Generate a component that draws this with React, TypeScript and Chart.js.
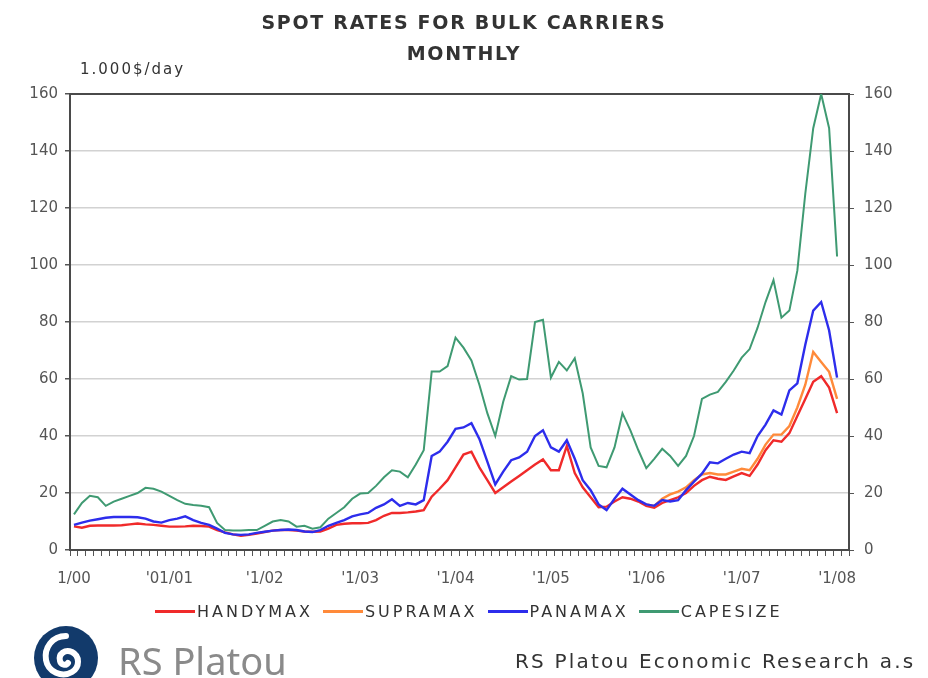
import React, { useEffect, useRef } from "react";
import { Chart, registerables } from "chart.js";

Chart.register(...registerables);

// Monthly categories Jan 2000 .. Feb 2008 (last slot left empty)
const categories: string[] = [];
for (let y = 2000; y <= 2008; y++) {
  for (let m = 1; m <= 12; m++) {
    if (categories.length < 98) categories.push(`${m}/${String(y).slice(2)}`);
  }
}

const yearTickLabels = ["1/00", "'01/01", "'1/02", "'1/03", "'1/04", "'1/05", "'1/06", "'1/07", "'1/08"];
const yTicks = [0, 20, 40, 60, 80, 100, 120, 140, 160];

// Spot rates, 1.000 $/day, Jan 2000 .. Jan 2008
const handymax = [
  8.3, 7.8, 8.5, 8.6, 8.6, 8.6, 8.7, 9.0, 9.3, 9.0, 8.8, 8.5,
  8.2, 8.2, 8.3, 8.5, 8.4, 8.2, 7.0, 6.2, 5.5, 5.0, 5.3, 5.8,
  6.3, 6.8, 7.0, 7.0, 6.8, 6.5, 6.4, 6.5, 7.5, 8.8, 9.2, 9.4,
  9.4, 9.5, 10.5, 12.0, 13.0, 13.0, 13.2, 13.5, 14.0, 18.7, 21.5, 24.5,
  29.0, 33.5, 34.5, 29.0, 24.5, 20.0, 22.0, 24.0, 26.0, 28.0, 30.0, 31.8,
  28.0, 28.0, 36.5, 27.0, 22.0, 18.5, 15.0, 15.2, 17.0, 18.5, 18.0, 17.0,
  15.5, 14.8, 16.5, 17.5, 18.5, 20.0, 22.5, 24.5, 25.7, 25.0, 24.6, 25.8,
  27.0, 26.0, 30.0, 35.0, 38.5, 38.0, 41.0, 47.0, 53.0, 59.0, 61.0, 57.0,
  48.0,
];

// Supramax series starts in Jan 2006
const supramaxStart = 72;
const supramax = [
  16.0, 15.5, 18.0, 19.5, 20.5, 22.0, 24.5, 26.5, 27.0, 26.5, 26.5, 27.5,
  28.5, 28.0, 32.0, 37.0, 40.5, 40.5, 43.5, 50.0, 58.0, 69.5, 66.0, 62.5,
  53.0,
];

const panamax = [
  8.8, 9.6, 10.3, 10.8, 11.3, 11.6, 11.6, 11.6, 11.5, 11.0, 10.0, 9.6,
  10.5, 11.0, 11.8, 10.5, 9.5, 8.8, 7.5, 6.0, 5.5, 5.3, 5.5, 6.0,
  6.4, 6.8, 7.0, 7.2, 7.0, 6.5, 6.3, 7.0, 8.5, 9.5, 10.5, 11.8,
  12.5, 13.0, 14.8, 16.0, 17.8, 15.5, 16.5, 16.0, 17.5, 33.0, 34.5, 38.0,
  42.5, 43.0, 44.5, 39.0, 31.0, 23.0, 27.5, 31.5, 32.5, 34.5, 40.0, 42.0,
  36.0, 34.5, 38.5, 32.0, 24.5, 21.0, 16.0, 14.0, 18.0, 21.5, 19.5, 17.5,
  16.0, 15.5, 17.5, 17.0, 17.5, 21.0, 24.0, 26.8, 30.8, 30.4, 32.0, 33.5,
  34.5, 34.0, 40.0, 44.0, 49.0, 47.5, 56.0, 58.5, 72.0, 84.0, 87.0, 77.0,
  60.5,
];

const capesize = [
  12.5, 16.5, 19.0, 18.5, 15.5, 17.0, 18.0, 19.0, 20.0, 21.8, 21.5, 20.5,
  19.0, 17.5, 16.2, 15.8, 15.5, 15.0, 9.5, 7.0, 6.8, 6.8, 7.0, 7.0,
  8.5, 10.0, 10.5, 10.0, 8.2, 8.5, 7.5, 8.0, 11.0, 13.0, 15.0, 18.0,
  19.8, 20.0, 22.5, 25.5, 28.0, 27.5, 25.5, 30.0, 35.0, 62.6, 62.6, 64.5,
  74.5, 71.0, 66.5, 58.0, 48.0, 40.0, 52.0, 61.0, 59.8, 60.0, 80.0, 80.8,
  60.5, 66.0, 63.0, 67.3, 55.0, 36.0, 29.5, 29.0, 36.0, 48.0, 42.0, 35.0,
  28.7, 32.0, 35.5, 33.0, 29.5, 33.0, 40.0, 53.0, 54.5, 55.5, 59.0, 63.0,
  67.5, 70.5, 78.0, 87.0, 94.7, 81.5, 84.0, 98.0, 125.0, 148.0, 160.0, 148.0,
  103.0,
];

const seriesNames = ["HANDYMAX", "SUPRAMAX", "PANAMAX", "CAPESIZE"];
const seriesColors = ["#f02a2a", "#ff8a3a", "#2d2dec", "#3f9a72"];

const FONT = "'DejaVu Sans', Verdana, sans-serif";

const framePlugin = {
  id: "plotFrame",
  beforeDatasetsDraw(chart: any) {
    const { ctx, chartArea } = chart;
    ctx.save();
    ctx.strokeStyle = "#4a4a4a";
    ctx.lineWidth = 2;
    ctx.strokeRect(chartArea.left, chartArea.top, chartArea.right - chartArea.left, chartArea.bottom - chartArea.top);
    ctx.restore();
  },
};

function SpotRatesChart() {
  const canvasRef = useRef<HTMLCanvasElement>(null);

  useEffect(() => {
    const canvas = canvasRef.current;
    if (!canvas) return;
    const supramaxFull = categories.map((_, i) =>
      i >= supramaxStart && i - supramaxStart < supramax.length ? supramax[i - supramaxStart] : null
    );
    const seriesData = [handymax, supramaxFull, panamax, capesize];

    const tickFont = { family: FONT, size: 15 };

    const chart = new Chart(canvas, {
      type: "line",
      data: {
        labels: categories,
        datasets: [3, 2, 1, 0].map((k) => ({
          label: seriesNames[k],
          data: seriesData[k] as any,
          borderColor: seriesColors[k],
          backgroundColor: seriesColors[k],
          borderWidth: k === 3 ? 2 : 2.4,
          pointRadius: 0,
          tension: 0,
          spanGaps: false,
          yAxisID: "y",
        })),
      },
      options: {
        responsive: false,
        animation: false,
        layout: { padding: { top: 94, left: 0, right: 0, bottom: 0 } },
        plugins: {
          legend: { display: false },
          title: { display: false },
          tooltip: { enabled: false },
        },
        scales: {
          x: {
            type: "category",
            offset: true,
            afterFit(scale: any) {
              scale.height = 128;
            },
            border: { display: false },
            grid: {
              offset: true,
              drawOnChartArea: false,
              drawTicks: true,
              tickLength: 6,
              tickColor: "#555",
              lineWidth: 1,
            },
            ticks: {
              autoSkip: false,
              maxRotation: 0,
              minRotation: 0,
              padding: 14,
              color: "#555",
              font: tickFont,
              callback: (_v: any, i: number) => (i % 12 === 0 ? yearTickLabels[i / 12] : ""),
            },
          },
          y: {
            position: "left",
            min: 0,
            max: 160,
            afterFit(scale: any) {
              scale.width = 70;
            },
            afterBuildTicks(scale: any) {
              scale.ticks = yTicks.map((v) => ({ value: v }));
            },
            border: { display: false },
            grid: {
              color: "#d2d2d2",
              lineWidth: 1.5,
              tickLength: 5,
              tickColor: "#555",
            },
            ticks: { padding: 7, color: "#555", font: tickFont },
          },
          y2: {
            position: "right",
            min: 0,
            max: 160,
            afterFit(scale: any) {
              scale.width = 79;
            },
            afterBuildTicks(scale: any) {
              scale.ticks = yTicks.map((v) => ({ value: v }));
            },
            border: { display: false },
            grid: {
              drawOnChartArea: false,
              tickLength: 5,
              tickColor: "#555",
            },
            ticks: { padding: 10, color: "#555", font: tickFont },
          },
        },
      } as any,
      plugins: [framePlugin],
    });
    return () => chart.destroy();
  }, []);

  return <canvas ref={canvasRef} width={928} height={678} style={{ position: "absolute", left: 0, top: 0 }} />;
}

function Logo() {
  return (
    <svg width="72" height="60" viewBox="0 0 72 60" style={{ position: "absolute", left: 30, top: 622 }}>
      <circle cx="36" cy="36" r="32" fill="#123a6b" />
      <path
        d="M36 14 C22 14 14 26 16 38 C18 50 32 56 42 50 C50 45 50 34 42 30 C35 27 28 32 30 39 C31 43 36 44 38 41"
        fill="none"
        stroke="#ffffff"
        strokeWidth="6"
        strokeLinecap="round"
      />
    </svg>
  );
}

export default function App() {
  const textColor = "#333";
  return (
    <div style={{ position: "absolute", left: 0, top: 0, width: 928, height: 678, background: "#fff", overflow: "hidden", fontFamily: FONT }}>
      <SpotRatesChart />
      <div style={{ position: "absolute", left: 0, width: 928, top: 11, textAlign: "center", color: textColor, fontSize: 19, fontWeight: "bold", letterSpacing: 1.7 }}>
        SPOT RATES FOR BULK CARRIERS
      </div>
      <div style={{ position: "absolute", left: 0, width: 928, top: 42, textAlign: "center", color: textColor, fontSize: 19, fontWeight: "bold", letterSpacing: 1.7 }}>
        MONTHLY
      </div>
      <div style={{ position: "absolute", left: 80, top: 60, color: textColor, fontSize: 15, letterSpacing: 2 }}>1.000$/day</div>
      <div style={{ position: "absolute", left: 155, top: 602, display: "flex", alignItems: "center", color: textColor, fontSize: 16, letterSpacing: 3 }}>
        {seriesNames.map((n, i) => (
          <div key={n} style={{ display: "flex", alignItems: "center", marginRight: 10 }}>
            <div style={{ width: 40, height: 2.5, background: seriesColors[i], marginRight: 2 }} />
            <span>{n}</span>
          </div>
        ))}
      </div>
      <Logo />
      <div style={{ position: "absolute", left: 118, top: 634, color: "#8a8a8a", fontSize: 38, fontFamily: "'Noto Sans', sans-serif" }}>RS Platou</div>
      <div style={{ position: "absolute", left: 515, top: 649, color: textColor, fontSize: 20, letterSpacing: 2.2 }}>
        RS Platou Economic Research a.s
      </div>
    </div>
  );
}
